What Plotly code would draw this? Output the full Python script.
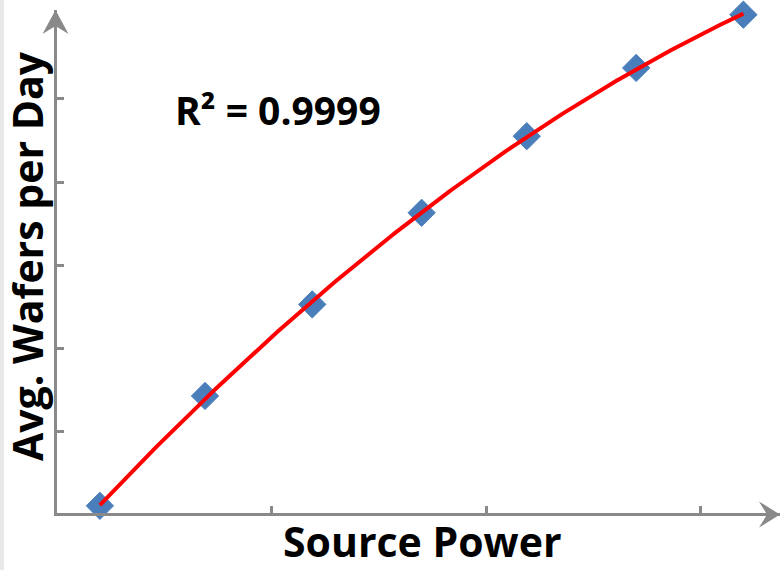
import numpy as np
import plotly.graph_objects as go

# Data (arbitrary units; x ticks every 1, y ticks every 1)
source_power = [0.20, 0.69, 1.19, 1.70, 2.19, 2.70, 3.20]
wafers_per_day = [0.11, 1.43, 2.53, 3.63, 4.55, 5.37, 6.01]
x_ticks = [1, 2, 3]
y_ticks = [1, 2, 3, 4, 5]
r2_label = "R² = 0.9999"
x_title = "Source Power"
y_title = "Avg. Wafers per Day"

# Polynomial (order 2) trendline fitted to the data
coef = np.polyfit(source_power, wafers_per_day, 2)
xf = np.linspace(min(source_power), max(source_power), 200)
yf = np.polyval(coef, xf)

AXIS_GRAY = "#898989"
FONT = "Open Sans"

fig = go.Figure()
fig.add_trace(go.Scatter(
    x=source_power, y=wafers_per_day, mode="markers",
    marker=dict(symbol="diamond", size=21, color="#4a7ebb",
                line=dict(width=1, color="#4a7ebb")),
    cliponaxis=False, showlegend=False, hoverinfo="skip"))
fig.add_trace(go.Scatter(
    x=xf, y=yf, mode="lines", line=dict(color="#ff0000", width=4),
    cliponaxis=False, showlegend=False, hoverinfo="skip"))

L, R, T, B = 57, 1, 10, 57
W, H = 781, 570
pw, ph = W - L - R, H - T - B
XS, YS = 214.5, 83.25          # pixels per axis unit
x_rng = [0, pw / XS]
y_rng = [2 / YS, 2 / YS + ph / YS]

fig.update_layout(
    width=W, height=H,
    margin=dict(l=L, r=R, t=T, b=B),
    paper_bgcolor="white", plot_bgcolor="white",
    xaxis=dict(range=x_rng, showgrid=False, zeroline=False,
               showline=True, linecolor=AXIS_GRAY, linewidth=3,
               ticks="inside", ticklen=7, tickwidth=3, tickcolor=AXIS_GRAY,
               tickvals=x_ticks, showticklabels=False, fixedrange=True),
    yaxis=dict(range=y_rng, showgrid=False, zeroline=False,
               showline=True, linecolor=AXIS_GRAY, linewidth=3,
               ticks="inside", ticklen=7, tickwidth=3, tickcolor=AXIS_GRAY,
               tickvals=y_ticks, showticklabels=False, fixedrange=True),
    showlegend=False,
)

# axis arrowheads (pixel-sized, anchored at the axis ends, paper refs => not clipped)
fig.add_shape(type="path", xref="paper", yref="paper", xsizemode="pixel", ysizemode="pixel",
              xanchor=-1.5 / pw, yanchor=1.0,
              path="M0,0 L13,-24 L0,-16 L-13,-24 Z",
              fillcolor=AXIS_GRAY, line=dict(width=0))
fig.add_shape(type="path", xref="paper", yref="paper", xsizemode="pixel", ysizemode="pixel",
              xanchor=1.0, yanchor=-1.5 / ph,
              path="M0,0 L-21,13 L-13,0 L-21,-13 Z",
              fillcolor=AXIS_GRAY, line=dict(width=0))

# texts
fig.add_annotation(xref="paper", yref="paper", x=(278 - L) / pw, y=(H - B - 110) / ph,
                   text=r2_label, showarrow=False, xanchor="center", yanchor="middle",
                   font=dict(family=FONT, size=39, color="black", weight=700))
fig.add_annotation(xref="paper", yref="paper", x=(422 - L) / pw, y=(H - B - 541) / ph,
                   text=x_title, showarrow=False, xanchor="center", yanchor="middle",
                   font=dict(family=FONT, size=41, color="black", weight=700))
fig.add_annotation(xref="paper", yref="paper", x=(27 - L) / pw, y=(H - B - 256) / ph,
                   text=y_title, showarrow=False, xanchor="center", yanchor="middle",
                   textangle=-90,
                   font=dict(family=FONT, size=41, color="black", weight=700))

# light-gray strip on the left edge of the picture
fig.add_shape(type="rect", xref="paper", yref="paper", layer="below",
              x0=-L / pw, x1=(4 - L) / pw, y0=-B / ph, y1=(H - B) / ph,
              fillcolor="#e8e8e8", line=dict(width=0))

fig.write_html("out.html")
